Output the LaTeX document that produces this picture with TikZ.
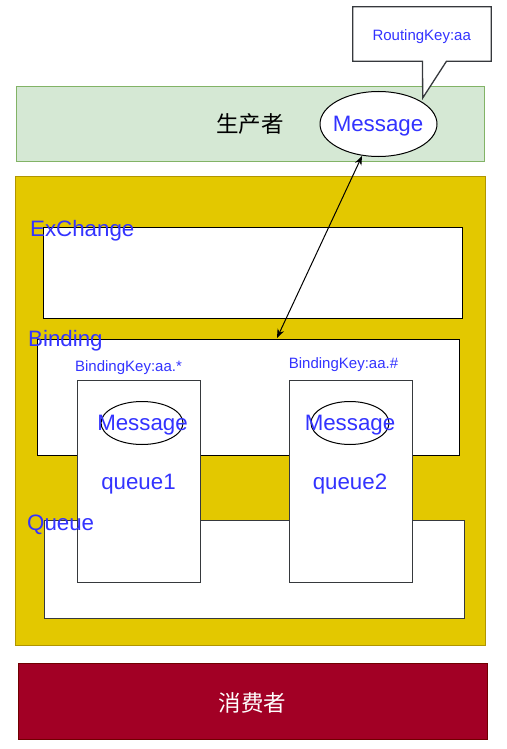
\documentclass[tikz,border=0pt]{standalone}
\usepackage{fontspec}
\setmainfont{Liberation Sans}
\newfontfamily\cjk{Noto Sans CJK SC}
\usetikzlibrary{shapes.geometric,arrows.meta,calc}
\definecolor{txtblue}{RGB}{51,51,255}
\definecolor{prodfill}{HTML}{D5E8D4}
\definecolor{prodline}{HTML}{82B366}
\definecolor{yelfill}{HTML}{E3C800}
\definecolor{yelline}{HTML}{B09500}
\definecolor{consfill}{HTML}{A20025}
\definecolor{consline}{HTML}{6F0000}
\definecolor{edge}{HTML}{36393D}
\tikzset{
  box/.style={draw, rectangle, inner sep=0pt, line width=1pt},
  ell/.style={draw=black, ellipse, inner sep=0pt, line width=1pt},
  bigtxt/.style={text=txtblue, inner sep=0pt, font=\fontsize{22.3}{26}\selectfont},
  smalltxt/.style={text=txtblue, inner sep=0pt, font=\fontsize{15}{18}\selectfont},
  cjktxt/.style={inner sep=0pt, font=\cjk\fontsize{22.5}{26}\selectfont},
}
\begin{document}
\begin{tikzpicture}[x=1pt,y=-1pt]
\useasboundingbox (0,0) rectangle (506,749);
% producer
\node[box, draw=prodline, fill=prodfill, minimum width=468pt, minimum height=74pt] (prod) at (250,124) {};
\node[cjktxt] (prodtxt) at (250,124) {生产者};
% yellow container
\node[box, draw=yelline, fill=yelfill, minimum width=470pt, minimum height=469pt] (broker) at (250,410.5) {};
% consumer
\node[box, draw=consline, fill=consfill, minimum width=469pt, minimum height=76pt] (cons) at (252.5,701) {};
\node[cjktxt, text=white] (constxt) at (252.5,702.5) {消费者};
% inner boxes
\node[box, draw=black, fill=white, minimum width=419pt, minimum height=91pt] (exch) at (252.5,272.5) {};
\node[box, draw=black, fill=white, minimum width=422pt, minimum height=116pt] (bind) at (248,397) {};
\node[box, draw=edge, fill=white, minimum width=420pt, minimum height=98pt] (queue) at (254,569) {};
\node[box, draw=edge, fill=white, minimum width=123pt, minimum height=202pt] (q1) at (138.5,481) {};
\node[box, draw=edge, fill=white, minimum width=123pt, minimum height=202pt] (q2) at (350.5,481) {};
% queue contents
\node[ell, minimum width=82pt, minimum height=43pt] (m1) at (142,423) {};
\node[ell, minimum width=78pt, minimum height=43pt] (m2) at (350,423) {};
\node[bigtxt] (m1t) at (142.5,425.5) {Message};
\node[bigtxt] (m2t) at (350,425.5) {Message};
\node[bigtxt] (q1t) at (138.5,484) {queue1};
\node[bigtxt] (q2t) at (350,484) {queue2};
\node[smalltxt] (bk1) at (128.5,367.5) {BindingKey:aa.*};
\node[smalltxt] (bk2) at (343.5,365) {BindingKey:aa.\#};
% section labels
\node[bigtxt, anchor=base west] (exl) at (30,236) {ExChange};
\node[bigtxt, anchor=base west] (bil) at (28,346) {Binding};
\node[bigtxt, anchor=base west] (qul) at (27,530) {Queue};
% callout
\node[rectangle, inner sep=0pt, minimum width=138pt, minimum height=54pt] (rk) at (422,34) {};
\coordinate (tip) at (422.7,98);
\draw[draw=edge, fill=white, line width=1.3pt, line join=miter]
  (rk.north west) -- (rk.north east) -- (rk.south east)
  -- ($(rk.south west)+(93.7,0)$) -- (tip) -- ($(rk.south west)+(69.7,0)$) -- (rk.south west) -- cycle;
\node[smalltxt] (rkt) at (421.7,37) {RoutingKey:aa};
% message on producer
\node[ell, fill=white, minimum width=117pt, minimum height=65pt] (msg) at (378.5,124) {};
\node[bigtxt] (msgt) at (378,126.5) {Message};
% arrow
\coordinate (a1) at (362,156);
\coordinate (a2) at (277,338);
\draw[{Stealth[length=9pt,width=7pt]}-{Stealth[length=9pt,width=7pt]}, line width=1pt] (a1) -- (a2);
\end{tikzpicture}
\end{document}
